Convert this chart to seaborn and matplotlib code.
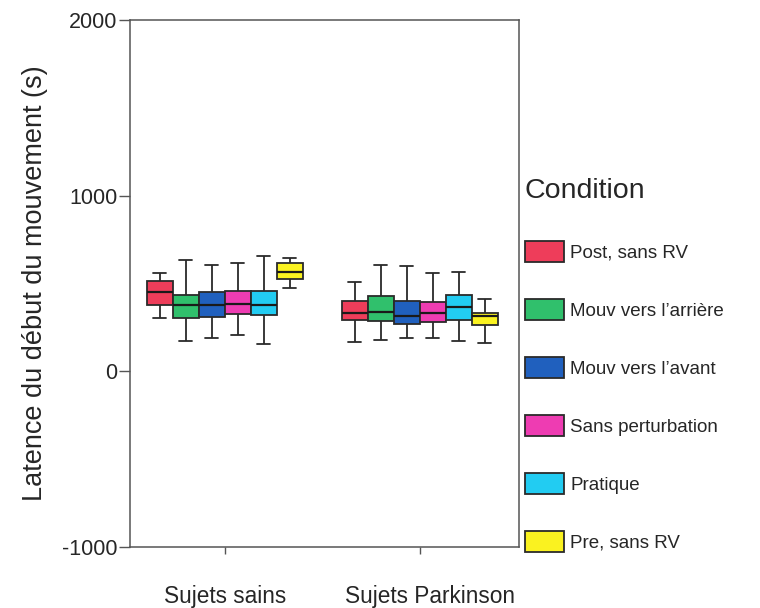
import numpy as np
import pandas as pd
import matplotlib
matplotlib.use("Agg")
import matplotlib.pyplot as plt
import matplotlib.transforms as mtransforms
import seaborn as sns

groups = ["Sujets sains", "Sujets Parkinson"]
conditions = ["Post, sans RV", "Mouv vers l\u2019arri\u00e8re", "Mouv vers l\u2019avant",
              "Sans perturbation", "Pratique", "Pre, sans RV"]
colors = ["#EE3D5A", "#30C06C", "#2060BE", "#EE3CB2", "#22CCF2", "#FAF220"]

# five-number summaries (whisker low, Q1, median, Q3, whisker high)
sains_min = [301, 170, 188, 205, 153, 472]
sains_q1 = [375, 301, 312, 324, 318, 523]
sains_med = [449, 375, 375, 381, 375, 568]
sains_q3 = [517, 432, 449, 460, 455, 614]
sains_max = [562, 636, 608, 619, 659, 648]

park_min = [165, 176, 188, 188, 170, 159]
park_q1 = [295, 284, 267, 278, 290, 261]
park_med = [330, 335, 313, 330, 369, 313]
park_q3 = [398, 426, 403, 392, 432, 330]
park_max = [506, 608, 597, 562, 568, 409]

yticks = [-1000, 0, 1000, 2000]

rows = []
for g, stats in zip(groups, [(sains_min, sains_q1, sains_med, sains_q3, sains_max),
                             (park_min, park_q1, park_med, park_q3, park_max)]):
    for i, c in enumerate(conditions):
        for s in stats:
            rows.append({"Groupe": g, "Condition": c, "Latence": s[i]})
df = pd.DataFrame(rows)

sns.set_theme(style="white")
plt.rcParams["font.family"] = ["Liberation Sans", "DejaVu Sans"]

fig = plt.figure(figsize=(7.6, 6.08), dpi=100)
ax = fig.add_axes([130 / 760, 61 / 608, 389 / 760, 527 / 608])

sns.boxplot(data=df, x="Groupe", y="Latence", hue="Condition", order=groups,
            hue_order=conditions, palette=colors, whis=(0, 100), width=0.8,
            gap=0, saturation=1, linewidth=1.3, linecolor="#2a2a2a",
            medianprops={"color": "#1a1a1a", "linewidth": 1.6}, ax=ax)

ax.set_xlim(-0.487, 1.508)
ax.set_ylim(-1000, 2000)
ax.set_yticks(yticks)
ax.set_yticklabels([str(t) for t in yticks], fontsize=15.5)
ax.set_xticks([0, 1])
ax.set_xticklabels(groups, fontsize=16.3)
ax.set_xlabel("")
ax.set_ylabel("Latence du d\u00e9but du mouvement (s)", fontsize=19.5, labelpad=10)
ax.tick_params(axis="y", direction="out", length=8, width=1, color="#555555", pad=1, left=True)
ax.tick_params(axis="x", direction="out", length=5, width=1, color="#555555", pad=22, bottom=True)
for sp in ax.spines.values():
    sp.set_color("#555555")
    sp.set_linewidth(1.1)

# second group label sits slightly right of its tick in the reference
lbl = ax.get_xticklabels()[1]
lbl.set_transform(lbl.get_transform() + mtransforms.ScaledTranslation(10 / 100, 0, fig.dpi_scale_trans))

handles, labels = ax.get_legend_handles_labels()
leg = ax.legend(handles, labels, title="Condition", loc="upper left",
                bbox_to_anchor=(525 / 760, 1 - 178 / 608), bbox_transform=fig.transFigure,
                frameon=False, fontsize=13.5, title_fontsize=20.5, handlelength=2.1,
                handleheight=1.35, labelspacing=1.97, handletextpad=0.3, borderpad=0,
                borderaxespad=0, alignment="left")

fig.savefig("out.png", dpi=100)
